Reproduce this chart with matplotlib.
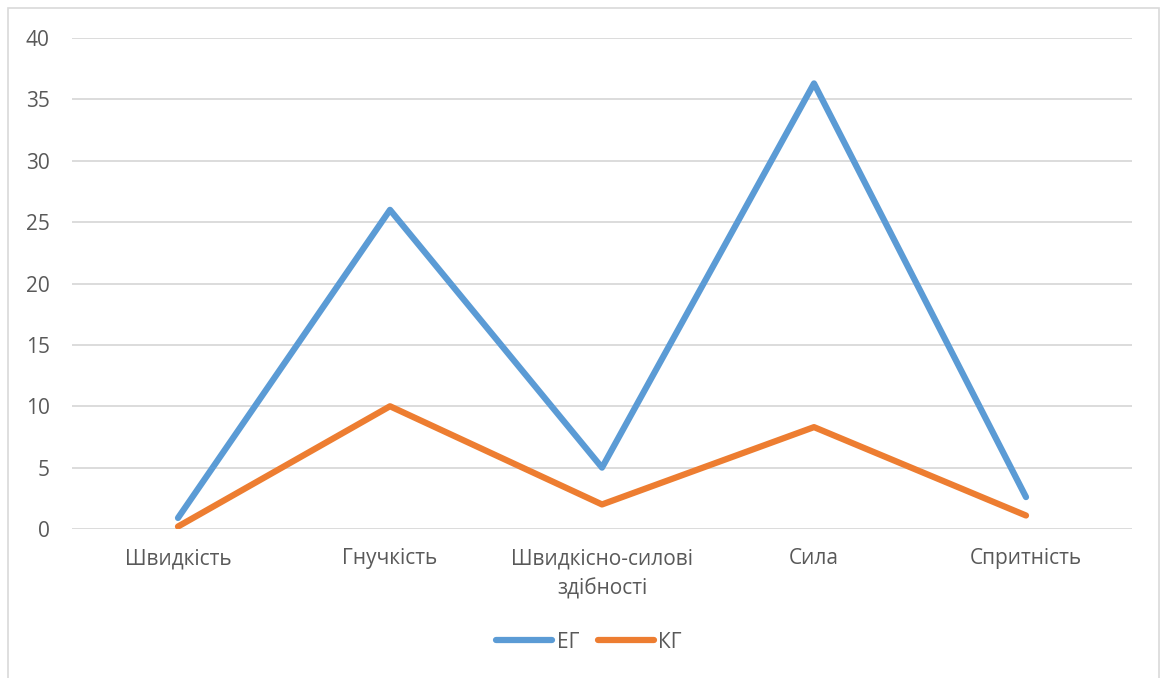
import matplotlib
matplotlib.use("Agg")
import matplotlib.pyplot as plt
from matplotlib.patches import Rectangle

plt.rcParams['font.family'] = ['Open Sans', 'DejaVu Sans']

categories = ['Швидкість', 'Гнучкість', 'Швидкісно-силові\nздібності', 'Сила', 'Спритність']
eg = [0.9, 26, 5, 36.3, 2.6]
kg = [0.2, 10, 2, 8.3, 1.1]
yticks = [0, 5, 10, 15, 20, 25, 30, 35, 40]

W, H = 1160, 678
fig = plt.figure(figsize=(W / 100, H / 100), dpi=100)
ax = fig.add_axes([72 / W, (H - 529) / H, (1132 - 72) / W, (529 - 38) / H])

# chart frame (cropped at the bottom in the reference)
fig.patches.append(Rectangle((8 / W, -0.1), (1159 - 8) / W, 1.1 - 8 / H,
                             transform=fig.transFigure, fill=False,
                             edgecolor='#d9d9d9', lw=1.2))

x = range(len(categories))
ax.plot(x, eg, color='#5B9BD5', lw=4.5, solid_capstyle='round', solid_joinstyle='round', label='ЕГ', zorder=3)
ax.plot(x, kg, color='#ED7D31', lw=4.5, solid_capstyle='round', solid_joinstyle='round', label='КГ', zorder=3)

ax.set_xlim(-0.5, len(categories) - 0.5)
ax.set_ylim(0, 40)
ax.set_yticks(yticks)
ax.set_xticks(list(x))
ax.set_xticklabels(categories, linespacing=1.55)
ax.yaxis.grid(True, color='#d9d9d9', lw=1.3)
ax.set_axisbelow(True)
for s in ax.spines.values():
    s.set_visible(False)
ax.tick_params(axis='both', length=0, labelsize=15, labelcolor='#595959')
ax.tick_params(axis='y', pad=16)
ax.tick_params(axis='x', pad=14)

leg = fig.legend(loc='center', bbox_to_anchor=(589 / W, (H - 642) / H), ncol=2,
                 frameon=False, fontsize=15, handlelength=2.7, columnspacing=0.9,
                 handletextpad=0.2)
for t in leg.get_texts():
    t.set_color('#595959')

fig.savefig('out.png', dpi=100)
